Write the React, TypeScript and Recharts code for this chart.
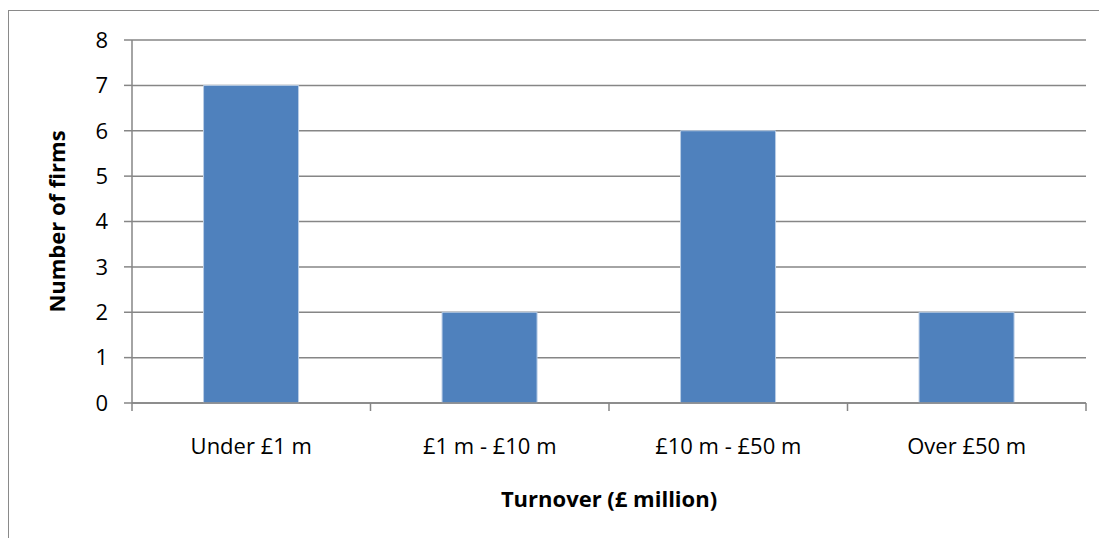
import React from 'react';
import { BarChart, Bar, XAxis, YAxis, CartesianGrid, Label } from 'recharts';

const categories = ['Under £1 m', '£1 m - £10 m', '£10 m - £50 m', 'Over £50 m'];
const firms = [7, 2, 6, 2];
const yTicks = [0, 1, 2, 3, 4, 5, 6, 7, 8];

const data = categories.map((c, i) => ({ name: c, value: firms[i] }));

const FONT = 'Open Sans, Liberation Sans, sans-serif';
const GRID = '#868686';
const TICK_LEN = 8;
const TICK_MARGIN = 35;

function CategoryTick(props: any) {
  const { x, y, payload, index, visibleTicksCount } = props;
  const half = payload && payload.offset ? payload.offset : 0;
  const axisY = y - TICK_MARGIN;
  const last = index === (visibleTicksCount ?? categories.length) - 1;
  return (
    <g>
      <line x1={x - half} x2={x - half} y1={axisY} y2={axisY + TICK_LEN} stroke={GRID} strokeWidth={1.5} />
      {last && (
        <line x1={x + half} x2={x + half} y1={axisY} y2={axisY + TICK_LEN} stroke={GRID} strokeWidth={1.5} />
      )}
      <text x={x} y={y} dy="0.71em" textAnchor="middle" fill="#000" fontSize={22} fontFamily={FONT}>
        {payload.value}
      </text>
    </g>
  );
}

export default function App() {
  return (
    <div style={{ position: 'relative', width: 1099, height: 530 }}>
      <div
        style={{
          position: 'absolute',
          left: 0,
          top: 2,
          width: 1099,
          height: 528,
          borderTop: '1px solid #8a8a8a',
          borderLeft: '1px solid #8a8a8a',
          boxSizing: 'border-box',
        }}
      />
      <div style={{ position: 'absolute', left: 0, top: 0 }}>
        <BarChart
          width={1099}
          height={530}
          data={data}
          margin={{ top: 32, right: 21, left: 60, bottom: 35 }}
          barCategoryGap="30%"
        >
          <CartesianGrid vertical={false} stroke={GRID} strokeWidth={1.5} />
          <XAxis
            dataKey="name"
            height={100}
            tickSize={0}
            tickMargin={TICK_MARGIN}
            axisLine={{ stroke: GRID, strokeWidth: 1.5 }}
            tickLine={false}
            tick={<CategoryTick />}
            interval={0}
          >
            <Label
              value="Turnover (£ million)"
              position="insideBottom"
              offset={-4}
              style={{ fill: '#000', fontSize: 22, fontWeight: 700, fontFamily: FONT }}
            />
          </XAxis>
          <YAxis
            width={64}
            domain={[0, 8]}
            ticks={yTicks}
            tickSize={8}
            tickMargin={16}
            axisLine={{ stroke: GRID, strokeWidth: 1.5 }}
            tickLine={{ stroke: GRID, strokeWidth: 1.5 }}
            tick={{ fill: '#000', fontSize: 22, fontFamily: FONT }}
          >
            <Label
              value="Number of firms"
              angle={-90}
              position="insideLeft"
              offset={-11}
              style={{ textAnchor: 'middle', fill: '#000', fontSize: 22, fontWeight: 700, fontFamily: FONT }}
            />
          </YAxis>
          <Bar dataKey="value" fill="#4F81BD" stroke="#B9CDE5" strokeWidth={1} isAnimationActive={false} />
        </BarChart>
      </div>
    </div>
  );
}
